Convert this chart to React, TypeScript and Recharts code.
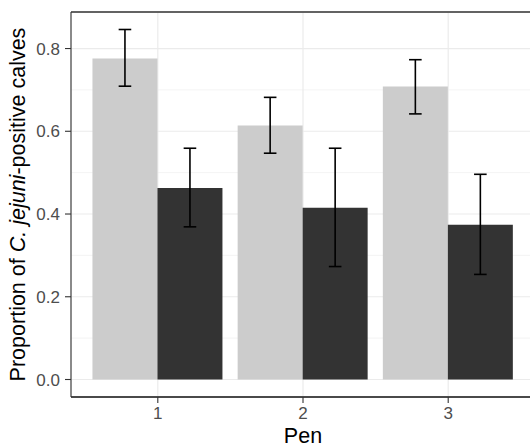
import React from 'react';
import { BarChart, Bar, XAxis, YAxis, CartesianGrid, ErrorBar, ReferenceLine } from 'recharts';

const pens = ['1', '2', '3'];
const lightValues = [0.776, 0.614, 0.708];
const lightLow = [0.709, 0.547, 0.642];
const lightHigh = [0.846, 0.682, 0.773];
const darkValues = [0.463, 0.415, 0.374];
const darkLow = [0.369, 0.273, 0.254];
const darkHigh = [0.559, 0.559, 0.496];
const yTicks = [0, 0.2, 0.4, 0.6, 0.8];
const yMinorTicks = [0.1, 0.3, 0.5, 0.7];

const data = pens.map((pen, i) => ({
  pen,
  light: lightValues[i],
  lightErr: [lightValues[i] - lightLow[i], lightHigh[i] - lightValues[i]],
  dark: darkValues[i],
  darkErr: [darkValues[i] - darkLow[i], darkHigh[i] - darkValues[i]],
}));

const dataMax = Math.max(...lightHigh, ...darkHigh);
const yDomain = [-0.05 * dataMax, dataMax * 1.05];

const FONT = '"Liberation Sans", Arial, sans-serif';

const YTitle = (props: any) => {
  const vb = props.viewBox || {};
  const cy = vb.y + vb.height / 2;
  const x = 25;
  return (
    <text
      x={x}
      y={cy}
      transform={`rotate(-90, ${x}, ${cy})`}
      textAnchor="middle"
      fontFamily={FONT}
      fontSize={21.5}
      fill="#000000"
    >
      <tspan>Proportion of </tspan>
      <tspan fontStyle="italic">C. jejuni</tspan>
      <tspan>-positive calves</tspan>
    </text>
  );
};

const XTitle = (props: any) => {
  const vb = props.viewBox || {};
  const cx = vb.x + vb.width / 2;
  return (
    <text x={cx} y={443} textAnchor="middle" fontFamily={FONT} fontSize={21.5} fill="#000000">
      Pen
    </text>
  );
};

export default function App() {
  return (
    <div style={{ position: 'fixed', left: 0, top: 0, width: 530, height: 448, overflow: 'hidden', background: '#fff' }}>
      <BarChart
        width={530}
        height={448}
        data={data}
        margin={{ top: 12, right: -5, bottom: 0, left: 0 }}
        barCategoryGap={7.25}
        barGap={0}
        style={{ overflow: 'hidden' }}
      >
        <CartesianGrid yAxisId="minor" vertical={false} stroke="#EBEBEB" strokeWidth={0.6} />
        <CartesianGrid stroke="#EBEBEB" strokeWidth={1.2} />
        <XAxis
          dataKey="pen"
          height={51}
          padding={{ left: 14.2, right: 14.2 }}
          tickSize={6}
          tickMargin={4}
          tick={{ fill: '#4D4D4D', fontSize: 17, fontFamily: FONT }}
          tickLine={{ stroke: '#333333', strokeWidth: 1.1 }}
          axisLine={{ stroke: '#333333', strokeWidth: 1.1 }}
          label={<XTitle />}
        />
        <YAxis
          type="number"
          width={71}
          domain={yDomain}
          allowDataOverflow
          ticks={yTicks}
          tickFormatter={(v: number) => v.toFixed(1)}
          tickSize={6}
          tickMargin={5}
          tick={{ fill: '#4D4D4D', fontSize: 17, fontFamily: FONT }}
          tickLine={{ stroke: '#333333', strokeWidth: 1.1 }}
          axisLine={{ stroke: '#333333', strokeWidth: 1.1 }}
          label={<YTitle />}
        />
        <YAxis
          yAxisId="minor"
          type="number"
          hide
          domain={yDomain}
          allowDataOverflow
          ticks={yMinorTicks}
        />
        <Bar dataKey="light" fill="#CCCCCC" isAnimationActive={false}>
          <ErrorBar dataKey="lightErr" width={6.3} stroke="#000000" strokeWidth={1.6} direction="y" isAnimationActive={false} />
        </Bar>
        <Bar dataKey="dark" fill="#333333" isAnimationActive={false}>
          <ErrorBar dataKey="darkErr" width={6.3} stroke="#000000" strokeWidth={1.6} direction="y" isAnimationActive={false} />
        </Bar>
        <ReferenceLine y={yDomain[1]} stroke="#333333" strokeWidth={1.3} />
        <ReferenceLine y={yDomain[0]} stroke="#333333" strokeWidth={1.3} />
      </BarChart>
    </div>
  );
}
